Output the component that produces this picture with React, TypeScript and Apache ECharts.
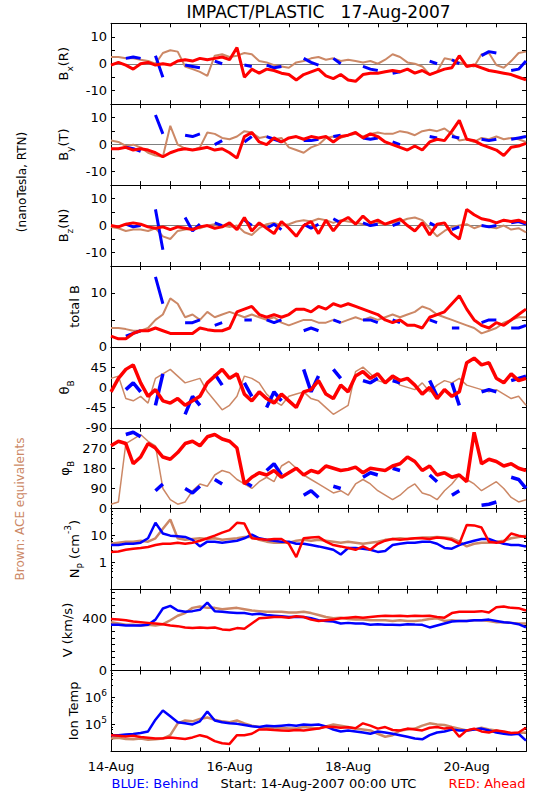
import React, { useEffect, useRef } from 'react';
import * as echarts from 'echarts';

const N = null;

// sample times, hours after 14-Aug-2007 00:00 UTC (3-hour steps)
const HOURS = [0, 3, 6, 9, 12, 15, 18, 21, 24, 27, 30, 33, 36, 39, 42, 45, 48, 51, 54, 57, 60, 63, 66, 69, 72, 75, 78, 81, 84, 87, 90, 93, 96, 99, 102, 105, 108, 111, 114, 117, 120, 123, 126, 129, 132, 135, 138, 141, 144, 147, 150, 153, 156, 159, 162, 165, 168];
const DATE_TICKS = [0, 48, 96, 144];
const DATE_LABELS = ['14-Aug', '16-Aug', '18-Aug', '20-Aug'];

// Bx (R), nT
const BX_ACE = [2.5, 2.5, 2, 2, 1.5, 1, 0, 4, 5, 4.5, -1, -2, -3, -4.5, 3, 3.5, 2.5, 3, 4, 3.5, 1, 0.5, -0.5, -1, -1.5, 0.5, 1, 2, 2.5, 1.5, 2, 1, 1.5, 1, 0.5, 1, 0, 1.5, 3.5, 2.5, 0.5, 0, -1, -4, -3, 2, 1.5, 0.5, -0.5, -1, 3.5, 4, -0.5, -1.5, 1, 4, 4.5];
const BX_BEHIND = [N, N, 2, 2.5, 2, N, 3, -5, N, N, -0.5, -1, -1.5, N, 1, 0, N, N, -0.5, -1, N, -0.5, -1.5, -1, N, N, 2, 0.5, -0.5, N, 2, 0, N, N, -1, -2, -2.5, N, -3.5, -3, N, N, N, 1, 0, N, 1.5, 0, N, N, 3, 4.5, 4, N, -2.5, -2, 1];
const BX_AHEAD = [-0.5, 0.5, -0.5, -2, 0, 0.5, -0.5, 0, -0.5, 1, 1.5, 1, 2, 1.5, 2, 2.5, 1.5, 6, -5, -2, -3.5, -2, -2.5, -3.5, -4, -6, -4, -3, -2, -4.5, -5.5, -4, -6, -6.5, -4, -3.5, -3.5, -3, -2.5, -3, -2, -3.5, -2.5, -4, -3, -2, -1.5, 3, -1, -0.5, -1.5, -2.5, -3, -3.5, -4, -5, -6];

// By (T), nT
const BY_ACE = [1.5, 1, -0.5, 0, -1, -3, -4, -4.5, 7, 0, -1.5, -2, -1, 4.5, 4, 2.5, 2, 3, 5, 4.5, 2.5, 3, 2, 2.5, -1, -2, -3, -1, 0, 2.5, 3, 2.5, 3.5, 4, 3, 4, 4.5, 4, 4, 5, 4.5, 3.5, 5, 5.5, 5, 6, 4, 1.5, 2, 1, 2.5, 2, 3, 2, 2.5, 2, 1];
const BY_BEHIND = [N, N, -1, -1.5, -2.5, N, 11, 4, N, N, 3.5, 3, 4, N, 0, 1.5, N, N, 1, 3, N, 3, 2, 1, N, N, 1.5, 1.5, 2, N, 3, 3.5, N, N, 2.5, 2, 2.5, N, 1, 0, N, N, N, 3, 2.5, N, 3, 2.5, N, N, 2, 1.5, 2, N, 2, 2.5, 3];
const BY_AHEAD = [-1.5, -1.5, -1, -2, -1.5, -2, -3, -4.5, -3, -2, -1.5, -2, -1.5, -1, -2, -1.5, -3, -5, 3, 4.5, 1, 0, 2.5, 1, 2.5, 3, 2, 3, 2.5, 3, 1, 3, 3.5, 4.5, 2.5, 4, 3, 1, 0, -1, -2, -0.5, -2, 1, 2, 1.5, 5, 9, 2, 1.5, 0, -1, -2, -4, -1, -0.5, 0.5];

// Bz (N), nT
const BZ_ACE = [-0.5, -1, -2, -1.5, -1.5, -2, -1, -4, -5, -2, -1.5, -1, -1, 0, 0.5, 0, -0.5, 0, -2.5, -3.5, -1, 0.5, 1, 0, 0.5, 1.5, 2, 1.5, 2.5, 2, 1, 2, 1.5, 1, 0.5, 0, 1, 0.5, 1, 1.5, 2.5, 3, 2, -1, -4, -2, -0.5, 0, 0.5, -1, 0, -0.5, -1, 0, -1.5, -1, -2.5];
const BZ_BEHIND = [N, N, 0.5, -0.5, 0, N, 6, -9, N, N, 3, -2, 0.5, N, 1, 0, N, N, 2, 0, N, -1, 0.5, -1.5, N, N, 0.5, -1, 0.5, N, 2.5, 1, N, N, 1, 0, 0.5, N, 0, 1, N, N, N, 1, -0.5, N, -1.5, -0.5, N, N, 0, -0.5, 0, N, 1, 1.5, 0.5];
const BZ_AHEAD = [0, -0.5, 0.5, 1, 0.5, -0.5, -1, -0.5, -1.5, -0.5, -1, -1.5, -0.5, 0, -1, -0.5, 1, -1.5, 3, -2, 1, -1, -3, 1.5, -1, -4, 0, 1.5, -3, 2, -2, 1.5, 3, 0.5, 3.5, 1, 2, 0.5, 1.5, 2.5, 0, -2, 1, -3.5, 0.5, 1, -3, -5, 6, 4, 2.5, 2, 1, 2, 1.5, 2, 1];

// total B, nT
const BT_ACE = [3.5, 3.5, 3.3, 3, 3, 3.5, 5, 6, 9, 8, 5.5, 6, 5, 6.5, 5.5, 6, 6.5, 6, 5.5, 6, 5.5, 5, 5.5, 4.5, 4, 4.5, 5, 5, 4.5, 4.5, 5, 4.5, 5, 5.5, 5, 5.5, 5, 5.5, 6, 5.5, 6, 6.5, 7.5, 7, 6, 5.5, 5, 4.5, 4, 3.5, 2.5, 3, 3.5, 4.5, 5, 5.5, 5.5];
const BT_BEHIND = [N, N, 2, 2.5, 3, N, 13, 8, N, N, 4.5, 4.5, 5, N, 4, 4.5, N, N, 5, 5, N, 5, 4.5, 5, N, N, 3, 3.5, 3, N, 5, 4.5, N, N, 5, 5, 4.5, N, 5, 4.5, N, N, N, 5, 4.5, N, 3.5, 3.5, N, N, 4.5, 5, 5, N, 3.5, 3.5, 4];
const BT_AHEAD = [2, 1.5, 1.5, 2.5, 3, 3, 3.5, 3, 2.5, 2.5, 2.5, 2.5, 3.5, 3.2, 3, 3, 3.5, 6.5, 7, 7.5, 6, 5.5, 6, 5.5, 6, 7, 7, 6.5, 7.5, 7, 8, 7.5, 8, 7.5, 7, 6.5, 6, 5, 4.5, 5, 4, 4, 3.5, 5.5, 6, 6.5, 8, 9.5, 7, 5, 4, 3.5, 4.5, 4, 5, 6, 7];

// theta_B, degrees
const TH_ACE = [20, 25, -25, -30, -20, -35, 20, 30, 40, 25, 10, 15, 20, -10, -30, -50, -40, -20, 25, 20, 10, -15, -30, -40, -20, -15, -10, -25, -30, -45, -60, -50, -40, 35, 45, 30, 15, 10, 20, 5, 0, -5, 10, -10, 5, 15, 10, 20, 5, 0, -5, -10, -5, -15, -25, -20, -40];
const TH_BEHIND = [N, N, -5, 10, -10, N, -40, 30, N, N, -60, -20, -40, N, 30, 5, N, N, 10, -20, N, -45, -10, -30, N, N, 40, -10, 25, N, 40, 20, N, N, 15, 10, 20, N, 15, 10, N, N, N, 15, -20, N, 10, -40, N, N, -10, -5, -10, N, 15, 20, 25];
const TH_AHEAD = [-10, 20, 40, 50, 10, -20, -5, -30, -35, -25, -40, -30, -20, 10, 25, 40, 20, 30, -15, -30, -10, -25, -35, -15, -30, -45, -10, -5, 15, -15, -25, 5, -10, 25, 35, 20, 30, 10, 25, 15, 20, 5, -15, 0, -25, -5, -20, -10, 55, 65, 50, 55, 20, 10, 30, 15, 20];

// phi_B, degrees
const PH_ACE = [20, 30, 290, 310, 330, 300, 280, 90, 40, 20, 30, 80, 110, 100, 150, 170, 160, 130, 110, 90, 120, 140, 120, 190, 210, 180, 150, 130, 110, 90, 70, 80, 60, 110, 130, 110, 80, 60, 40, 60, 90, 110, 70, 60, 40, 80, 110, 150, 130, 110, 80, 100, 120, 90, 50, 30, 40];
const PH_BEHIND = [N, N, 330, 340, 320, N, 80, 110, N, N, 90, 70, 100, N, 130, 110, N, N, 120, 100, N, 170, 200, 150, N, N, 60, 80, 50, N, 100, 90, N, N, 140, 160, 150, N, 180, 170, N, N, N, 150, 120, N, 60, 80, N, N, 15, 20, 30, N, 140, 130, 90];
const PH_AHEAD = [280, 300, 290, 200, 230, 290, 270, 230, 220, 250, 290, 300, 280, 320, 330, 310, 300, 270, 110, 140, 160, 150, 170, 140, 160, 180, 150, 170, 160, 190, 180, 170, 175, 185, 160, 180, 175, 170, 190, 200, 230, 210, 170, 190, 150, 160, 140, 150, 120, 340, 200, 220, 210, 190, 200, 180, 170];

// proton density, cm^-3
const NP_ACE = [5, 5.5, 6, 6, 6.5, 6, 8, 18, 40, 8, 7, 7.5, 8, 7.5, 8, 7, 7.5, 8, 9, 9, 7, 6, 5.5, 5.5, 5.5, 6.5, 7, 6.5, 7, 6.5, 6, 5.5, 6, 5.5, 5, 5.5, 6, 7, 7.5, 8, 7.5, 8, 8.5, 8.5, 9, 8.5, 8, 6, 4, 5, 5.5, 5.5, 6, 6.5, 8, 9, 10];
const NP_BEHIND = [4.5, 4.5, 5, 5, 5.5, 8, 30, 12, 10, 9.5, 9, 7, 4, 6, 6, 5.5, 6, 6.5, 8, 11, 8, 7, 6.5, 6, 6, 5, 5, 4.5, 4, 3.5, 3, 2, 3.5, 3.5, 3.3, 3, 2.5, 2.7, 4.5, 5, 5.5, 5.5, 6, 6, 5, 3.5, 3.3, 4.5, 5.5, 6.5, 7.5, 7.5, 6, 5, 4.5, 4.5, 4];
const NP_AHEAD = [2.5, 2.6, 3, 3.3, 3.5, 3.8, 4.5, 5, 5, 5.5, 5, 5.5, 6.5, 8, 10, 13, 16, 30, 28, 8, 7.5, 7, 7.5, 7.5, 5, 1.6, 8, 8.5, 9, 6, 4.5, 4, 3.5, 3, 4, 3, 5, 6.5, 7.5, 7, 7.5, 8, 8, 7.5, 8.5, 8, 7, 5, 25, 24, 20, 6, 5.5, 6, 12, 10, 9];

// bulk speed, km/s
const V_ACE = [370, 360, 350, 350, 345, 350, 345, 355, 385, 420, 440, 480, 490, 480, 480, 470, 475, 480, 470, 460, 455, 450, 450, 450, 445, 445, 450, 440, 425, 410, 400, 405, 395, 390, 390, 385, 385, 385, 380, 385, 380, 380, 385, 395, 400, 380, 385, 380, 380, 385, 385, 380, 370, 370, 365, 360, 360];
const V_BEHIND = [350, 350, 345, 345, 345, 350, 390, 475, 495, 460, 450, 455, 465, 520, 455, 450, 445, 440, 440, 430, 435, 425, 420, 415, 410, 412, 410, 400, 385, 380, 375, 360, 365, 360, 360, 350, 355, 350, 350, 348, 355, 352, 350, 330, 345, 360, 375, 380, 380, 385, 385, 390, 380, 370, 365, 355, 330];
const V_AHEAD = [395, 390, 385, 375, 370, 365, 360, 355, 345, 340, 330, 325, 330, 325, 330, 315, 310, 325, 320, 360, 400, 405, 410, 410, 405, 415, 410, 390, 380, 385, 390, 400, 405, 410, 405, 410, 415, 420, 418, 420, 415, 420, 418, 420, 410, 405, 440, 450, 450, 450, 455, 445, 485, 490, 480, 478, 460];

// ion temperature, K
const T_ACE = [30000, 32000, 29000, 28000, 30000, 27000, 28000, 30000, 40000, 110000, 140000, 130000, 160000, 180000, 150000, 130000, 120000, 140000, 110000, 90000, 80000, 75000, 70000, 75000, 70000, 70000, 80000, 75000, 70000, 85000, 100000, 90000, 80000, 70000, 65000, 60000, 45000, 35000, 40000, 60000, 65000, 70000, 90000, 110000, 100000, 95000, 80000, 70000, 60000, 65000, 75000, 65000, 60000, 50000, 45000, 48000, 50000];
const T_BEHIND = [40000, 40000, 42000, 44000, 48000, 55000, 150000, 330000, 200000, 120000, 110000, 100000, 130000, 300000, 140000, 120000, 110000, 105000, 95000, 85000, 80000, 90000, 85000, 90000, 95000, 90000, 100000, 95000, 100000, 85000, 65000, 55000, 60000, 55000, 50000, 45000, 55000, 50000, 45000, 40000, 35000, 30000, 28000, 40000, 50000, 55000, 65000, 60000, 60000, 65000, 70000, 60000, 50000, 45000, 42000, 45000, 25000];
const T_AHEAD = [40000, 38000, 36000, 38000, 34000, 32000, 30000, 31000, 33000, 31000, 29000, 33000, 40000, 34000, 24000, 20000, 19000, 40000, 40000, 45000, 65000, 65000, 62000, 60000, 58000, 62000, 60000, 65000, 70000, 82000, 80000, 75000, 78000, 72000, 110000, 90000, 70000, 80000, 62000, 60000, 70000, 65000, 60000, 75000, 80000, 70000, 75000, 35000, 60000, 70000, 55000, 50000, 60000, 55000, 48000, 50000, 75000];

const BLUE = '#0000FF';
const RED = '#FF0000';
const BROWN = '#CC8866';
const FONT = 'DejaVu Sans';

const PLOT_LEFT = 111;
const PLOT_WIDTH = 415;
const PANEL_TOP = 23.3;
const PANEL_H = 80.9;

// line widths per panel: [ACE, Behind, Ahead]
const LINE_WIDTHS = [
  [2, 3, 3], [2, 3, 3], [2, 3, 3], [2, 3, 3],
  [1.5, 3.5, 3.5], [1.5, 3.5, 3.5],
  [2.5, 2.5, 2.5], [2.5, 2.5, 2.5], [2.5, 2.5, 2.5],
];

type Panel = {
  name: string;
  nameX: number;
  ace: (number | null)[];
  behind: (number | null)[];
  ahead: (number | null)[];
  type: 'value' | 'log';
  min: number;
  max: number;
  interval?: number;
  labels: number[];
  zero?: boolean;
  sup?: boolean;
};

const PANELS: Panel[] = [
  { name: '{m|B}{s|x}{m|(R)}', nameX: 63, ace: BX_ACE, behind: BX_BEHIND, ahead: BX_AHEAD, type: 'value', min: -15, max: 15, interval: 5, labels: [-10, 0, 10], zero: true },
  { name: '{m|B}{s|y}{m|(T)}', nameX: 63, ace: BY_ACE, behind: BY_BEHIND, ahead: BY_AHEAD, type: 'value', min: -15, max: 15, interval: 5, labels: [-10, 0, 10], zero: true },
  { name: '{m|B}{s|z}{m|(N)}', nameX: 63, ace: BZ_ACE, behind: BZ_BEHIND, ahead: BZ_AHEAD, type: 'value', min: -15, max: 15, interval: 5, labels: [-10, 0, 10], zero: true },
  { name: '{m|total B}', nameX: 74, ace: BT_ACE, behind: BT_BEHIND, ahead: BT_AHEAD, type: 'value', min: 0, max: 15, interval: 5, labels: [0, 10] },
  { name: '{m|θ}{s|B}', nameX: 64, ace: TH_ACE, behind: TH_BEHIND, ahead: TH_AHEAD, type: 'value', min: -90, max: 90, interval: 45, labels: [-90, -45, 0, 45] },
  { name: '{m|φ}{s|B}', nameX: 64, ace: PH_ACE, behind: PH_BEHIND, ahead: PH_AHEAD, type: 'value', min: 0, max: 360, interval: 90, labels: [0, 90, 180, 270] },
  { name: '{m|N}{s|P}{m| (cm}{p|-3}{m|)}', nameX: 74, ace: NP_ACE, behind: NP_BEHIND, ahead: NP_AHEAD, type: 'log', min: 0.1, max: 100, labels: [1, 10] },
  { name: '{m|V (km/s)}', nameX: 67, ace: V_ACE, behind: V_BEHIND, ahead: V_AHEAD, type: 'value', min: 0, max: 620, interval: 50, labels: [0, 400] },
  { name: '{m|Ion Temp}', nameX: 73, ace: T_ACE, behind: T_BEHIND, ahead: T_AHEAD, type: 'log', min: 1e4, max: 1e7, labels: [1e5, 1e6], sup: true },
];

const richName = {
  m: { fontSize: 13, fontFamily: FONT, fill: '#000', lineHeight: 22, verticalAlign: 'middle' },
  s: { fontSize: 9, fontFamily: FONT, fill: '#000', lineHeight: 9, verticalAlign: 'bottom' },
  p: { fontSize: 9, fontFamily: FONT, fill: '#000', lineHeight: 9, verticalAlign: 'top' },
};

const toPoints = (arr: (number | null)[]) => HOURS.map((h, i) => [h, arr[i] == null ? '-' : arr[i]]);

const near = (a: number, b: number) => Math.abs(a - b) <= Math.abs(b) * 1e-6 + 1e-9;

function buildOption() {
  const grid: any[] = [];
  const xAxis: any[] = [];
  const yAxis: any[] = [];
  const series: any[] = [];
  const graphic: any[] = [];

  PANELS.forEach((p, k) => {
    const top = PANEL_TOP + k * PANEL_H;
    grid.push({ left: PLOT_LEFT, width: PLOT_WIDTH, top, height: PANEL_H });
    const last = k === PANELS.length - 1;
    const xBase = {
      type: 'value', gridIndex: k, min: 0, max: 168, interval: 12,
      axisLine: { show: true, onZero: false, lineStyle: { color: '#000', width: 1 } },
      axisTick: { show: true, inside: true, length: 4, lineStyle: { color: '#000', width: 1 } },
      splitLine: { show: false },
    };
    xAxis.push({
      ...xBase, position: 'bottom',
      axisLabel: {
        show: last, margin: 9, color: '#000', fontSize: 13, fontFamily: FONT,
        showMinLabel: true, showMaxLabel: false,
        formatter: (v: number) => {
          const j = DATE_TICKS.indexOf(Math.round(v));
          return j >= 0 ? DATE_LABELS[j] : '';
        },
      },
    });
    xAxis.push({ ...xBase, position: 'top', axisLabel: { show: false } });

    const yBase: any = {
      type: p.type, gridIndex: k, min: p.min, max: p.max,
      axisLine: { show: true, onZero: false, lineStyle: { color: '#000', width: 1 } },
      axisTick: { show: true, inside: true, length: 4, lineStyle: { color: '#000', width: 1 } },
      splitLine: { show: false },
    };
    if (p.interval) yBase.interval = p.interval;
    if (p.type === 'log') {
      yBase.logBase = 10;
      yBase.minorTick = { show: true, splitNumber: 5, length: 2, lineStyle: { color: '#000' } };
    }
    yAxis.push({
      ...yBase, position: 'left',
      axisLabel: {
        show: true, margin: 4, color: '#000', fontSize: 13, fontFamily: FONT,
        showMinLabel: true, showMaxLabel: true, lineHeight: 18,
        rich: { sup: { fontSize: 9, fontFamily: FONT, color: '#000', lineHeight: 9, verticalAlign: 'top' } },
        formatter: (v: number) => {
          const hit = p.labels.find((l) => near(v, l));
          if (hit === undefined) return '';
          if (p.sup) return '10{sup|' + Math.round(Math.log10(hit)) + '}';
          return String(hit);
        },
      },
    });
    yAxis.push({ ...yBase, position: 'right', axisLabel: { show: false } });

    const w = LINE_WIDTHS[k];
    const common = {
      type: 'line', xAxisIndex: 2 * k, yAxisIndex: 2 * k, showSymbol: false, symbol: 'none',
      connectNulls: false, clip: true, animation: false, silent: true,
    };
    const aceSeries: any = {
      ...common, name: 'ACE', data: toPoints(p.ace), z: 2,
      lineStyle: { color: BROWN, width: w[0] },
    };
    if (p.zero) {
      aceSeries.markLine = {
        silent: true, symbol: 'none', z: 1, label: { show: false },
        lineStyle: { color: '#808080', type: 'solid', width: 1 },
        data: [{ yAxis: 0 }],
      };
    }
    series.push(aceSeries);
    series.push({ ...common, name: 'Behind', data: toPoints(p.behind), z: 3, lineStyle: { color: BLUE, width: w[1] } });
    series.push({ ...common, name: 'Ahead', data: toPoints(p.ahead), z: 4, lineStyle: { color: RED, width: w[2] } });

    graphic.push({
      type: 'text', x: p.nameX, y: top + PANEL_H / 2, rotation: Math.PI / 2,
      style: { text: p.name, rich: richName, align: 'center', verticalAlign: 'middle', fill: '#000' },
    });
  });

  graphic.push(
    { type: 'text', x: 318.5, y: 12, style: { text: 'IMPACT/PLASTIC   17-Aug-2007', fontSize: 17, fontFamily: FONT, fill: '#000', align: 'center', verticalAlign: 'middle' } },
    { type: 'text', x: 22, y: 182, rotation: Math.PI / 2, style: { text: '(nanoTesla, RTN)', fontSize: 12, fontFamily: FONT, fill: '#000', align: 'center', verticalAlign: 'middle' } },
    { type: 'text', x: 20, y: 509, rotation: Math.PI / 2, style: { text: 'Brown: ACE equivalents', fontSize: 12, fontFamily: FONT, fill: BROWN, align: 'center', verticalAlign: 'middle' } },
    { type: 'text', x: 111.5, y: 783, style: { text: 'BLUE: Behind', fontSize: 13, fontFamily: FONT, fill: BLUE, align: 'left', verticalAlign: 'middle' } },
    { type: 'text', x: 318.5, y: 783, style: { text: 'Start: 14-Aug-2007 00:00 UTC', fontSize: 13, fontFamily: FONT, fill: '#000', align: 'center', verticalAlign: 'middle' } },
    { type: 'text', x: 525.5, y: 783, style: { text: 'RED: Ahead', fontSize: 13, fontFamily: FONT, fill: RED, align: 'right', verticalAlign: 'middle' } },
  );

  return {
    animation: false,
    backgroundColor: '#FFFFFF',
    grid, xAxis, yAxis, series, graphic,
  };
}

export default function App() {
  const ref = useRef<HTMLDivElement>(null);
  useEffect(() => {
    if (!ref.current) return;
    const chart = echarts.init(ref.current, null, { renderer: 'svg' });
    chart.setOption(buildOption() as any);
    return () => chart.dispose();
  }, []);
  return (
    <div
      ref={ref}
      style={{ position: 'absolute', left: 0, top: 0, width: 550, height: 800, background: '#FFFFFF' }}
    />
  );
}
